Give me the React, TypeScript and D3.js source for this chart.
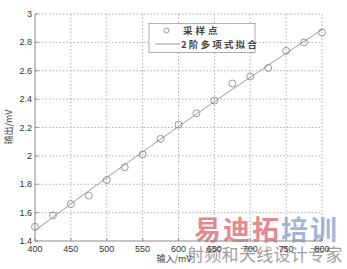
import React from "react";
import * as d3 from "d3";

const inputs = [400, 425, 450, 475, 500, 525, 550, 575, 600, 625, 650, 675, 700, 725, 750, 775, 800];
const outputs = [1.5, 1.58, 1.66, 1.72, 1.83, 1.92, 2.01, 2.12, 2.22, 2.3, 2.39, 2.51, 2.56, 2.62, 2.74, 2.8, 2.87];
const xTicks = [400, 450, 500, 550, 600, 650, 700, 750, 800];
const yTicks = [1.4, 1.6, 1.8, 2, 2.2, 2.4, 2.6, 2.8, 3];
const legendLabels = ["采样点", "2阶多项式拟合"];
const xLabel = "输入/mV";
const yLabel = "输出/mV";

function quadFit(xs: number[], ys: number[]) {
  const m = d3.mean(xs)!;
  const u = xs.map((x) => x - m);
  const n = xs.length;
  const S = (k: number) => d3.sum(u, (v) => Math.pow(v, k));
  const T = (k: number) => d3.sum(u, (v, i) => Math.pow(v, k) * ys[i]);
  const A = [
    [n, S(1), S(2)],
    [S(1), S(2), S(3)],
    [S(2), S(3), S(4)],
  ];
  const B = [T(0), T(1), T(2)];
  const det = (M: number[][]) =>
    M[0][0] * (M[1][1] * M[2][2] - M[1][2] * M[2][1]) -
    M[0][1] * (M[1][0] * M[2][2] - M[1][2] * M[2][0]) +
    M[0][2] * (M[1][0] * M[2][1] - M[1][1] * M[2][0]);
  const D = det(A);
  const coef = [0, 1, 2].map((j) => {
    const M = A.map((row, i) => row.map((v, k) => (k === j ? B[i] : v)));
    return det(M) / D;
  });
  return (x: number) => coef[0] + coef[1] * (x - m) + coef[2] * (x - m) * (x - m);
}

export default function App() {
  const W = 347, H = 269;
  const L = 35, R = 322, T = 14, Bm = 241;
  const x = d3.scaleLinear().domain([400, 800]).range([L, R]);
  const y = d3.scaleLinear().domain([1.4, 3]).range([Bm, T]);
  const f = quadFit(inputs, outputs);
  const fitXs = d3.range(400, 801, 5);
  const line = d3.line<number>().x((d) => x(d)).y((d) => y(f(d)));
  const grid = "#9a9a9a";
  const axis = "#8a8a8a";
  const txt = "#333";
  return (
    <svg width={W} height={H} style={{ position: "absolute", left: 0, top: 0, background: "#fff" }}>
      <rect x={0} y={0} width={W} height={H} fill="#fff" />
      {/* watermark (behind) */}
      <text x={194} y={240} fontSize={27} fontWeight="bold" fontFamily="Noto Sans CJK SC" letterSpacing={2}>
        <tspan fill="#e2737c" fillOpacity={0.85}>易迪拓</tspan>
        <tspan fill="#8fa9d2" fillOpacity={0.85}>培训</tspan>
      </text>
      <text x={187} y={261} fontSize={17} fontFamily="Noto Sans CJK SC" fill="#a0a0a0" letterSpacing={0.3}>
        射频和天线设计专家
      </text>
      {/* grid */}
      {xTicks.slice(1, -1).map((t) => (
        <line key={"gx" + t} x1={x(t)} x2={x(t)} y1={T} y2={Bm} stroke={grid} strokeWidth={0.8} strokeDasharray="1.5,2" />
      ))}
      {yTicks.slice(1, -1).map((t) => (
        <line key={"gy" + t} x1={L} x2={R} y1={y(t)} y2={y(t)} stroke={grid} strokeWidth={0.8} strokeDasharray="1.5,2" />
      ))}
      <line x1={L} x2={R} y1={T} y2={T} stroke={grid} strokeWidth={0.8} strokeDasharray="1.5,2" />
      <line x1={R} x2={R} y1={T} y2={Bm} stroke={grid} strokeWidth={0.8} strokeDasharray="1.5,2" />
      {/* axes */}
      <line x1={L} x2={L} y1={T} y2={Bm} stroke={axis} strokeWidth={1} />
      <line x1={L} x2={R} y1={Bm} y2={Bm} stroke={axis} strokeWidth={1} />
      {xTicks.map((t) => (
        <g key={"xt" + t}>
          <line x1={x(t)} x2={x(t)} y1={Bm} y2={Bm - 3} stroke={axis} />
          <text x={x(t)} y={Bm + 11} textAnchor="middle" fontSize={9} fontFamily="Liberation Sans, Arial" fill={txt}>
            {t}
          </text>
        </g>
      ))}
      {yTicks.map((t) => (
        <g key={"yt" + t}>
          <line x1={L} x2={L + 3} y1={y(t)} y2={y(t)} stroke={axis} />
          <text x={L - 3} y={y(t) + 3} textAnchor="end" fontSize={9} fontFamily="Liberation Sans, Arial" fill={txt}>
            {String(t)}
          </text>
        </g>
      ))}
      {/* fit line */}
      <path d={line(fitXs) || ""} fill="none" stroke="#8c8c8c" strokeWidth={0.9} />
      {/* points */}
      {inputs.map((v, i) => (
        <circle key={"p" + i} cx={x(v)} cy={y(outputs[i])} r={3.5} fill="none" stroke="#8c8c8c" strokeWidth={0.9} />
      ))}
      {/* legend */}
      <rect x={149} y={23.5} width={106} height={29} fill="#fff" stroke="#999" strokeWidth={0.8} />
      <circle cx={166.5} cy={30.5} r={2.5} fill="none" stroke="#8c8c8c" strokeWidth={0.9} />
      <text x={183} y={34} fontSize={9.5} fontWeight="bold" fontFamily="Noto Sans CJK SC" fill="#444" letterSpacing={3}>
        {legendLabels[0]}
      </text>
      <line x1={155} x2={180} y1={44} y2={44} stroke="#8c8c8c" strokeWidth={0.9} />
      <text x={181} y={47.5} fontSize={9.5} fontWeight="bold" fontFamily="Noto Sans CJK SC" fill="#444" letterSpacing={2.2}>
        {legendLabels[1]}
      </text>
      {/* axis labels */}
      <text x={174} y={262} textAnchor="middle" fontSize={9} fontFamily="Noto Sans CJK SC" fill="#444">
        {xLabel}
      </text>
      <text transform="translate(12,127) rotate(-90)" textAnchor="middle" fontSize={9} fontFamily="Noto Sans CJK SC" fill="#444">
        {yLabel}
      </text>
    </svg>
  );
}
